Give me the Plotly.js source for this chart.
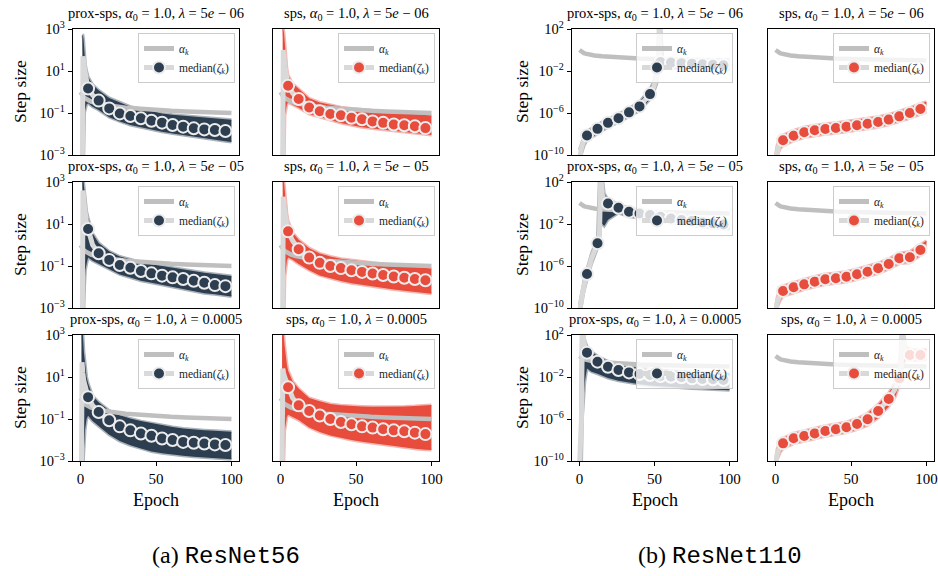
<!DOCTYPE html>
<html><head><meta charset="utf-8">
<script src="https://cdn.plot.ly/plotly-3.0.1.min.js"></script>
<style>html,body{margin:0;padding:0;background:#fff}</style>
</head><body><div id="chart" style="width:938px;height:576px"></div>
<script>
// ---------- shared data ----------
const MARK_EPOCHS = [5,12,19,26,33,40,47,54,61,68,75,82,89,96];
const ALPHA_EPOCHS = [0,1,2,3,4,5,7,10,15,20,30,40,50,60,70,80,90,100];
const ALPHA_VALUES = [1.0,0.71,0.58,0.5,0.45,0.41,0.35,0.3,0.25,0.22,0.18,0.156,0.14,0.128,0.119,0.111,0.105,0.1];
const METHODS = ['prox-sps','sps'];
const LAMBDA_LABELS = ['5<i>e</i> − 06','5<i>e</i> − 05','0.0005'];
const X_TICKS = [0,50,100];
const Y_TICKS_56 = [1e-3,1e-1,1e1,1e3];
const Y_TEXT_56 = ['10<sup>−3</sup>','10<sup>−1</sup>','10<sup>1</sup>','10<sup>3</sup>'];
const Y_TICKS_110 = [1e-10,1e-6,1e-2,1e2];
const Y_TEXT_110 = ['10<sup>−10</sup>','10<sup>−6</sup>','10<sup>−2</sup>','10<sup>2</sup>'];
const CAPTIONS = [['(a) ','ResNet56'],['(b) ','ResNet110']];

// ---------- per-panel data (log10 of step size) ----------
// ResNet56, prox-sps
const r56p_1_x   = [1.2,1.6,2.0,2.6,3.2,4.0,5,8,12,19,26,33,40,47,54,61,68,75,82,89,96,100];
const r56p_1_med = [-3.5,1.7,1.5,1.1,0.75,0.45,0.17,-0.15,-0.41,-0.78,-1.02,-1.14,-1.25,-1.37,-1.46,-1.57,-1.65,-1.73,-1.78,-1.81,-1.86,-1.88];
const r56p_1_hi  = [2.7,2.7,2.5,1.8,1.3,1.0,0.73,0.35,0.08,-0.28,-0.5,-0.7,-0.8,-0.92,-1.02,-1.08,-1.12,-1.17,-1.22,-1.26,-1.3,-1.32];
const r56p_1_lo  = [-3.5,-3.5,-3.5,-1.0,-0.75,-0.6,-0.54,-0.7,-0.86,-1.2,-1.4,-1.57,-1.68,-1.8,-1.89,-1.98,-2.06,-2.13,-2.2,-2.28,-2.35,-2.38];

const r56p_2_x   = [1.2,1.6,2.0,2.6,3.2,4.0,5,8,12,19,26,33,40,47,54,61,68,75,82,89,96,100];
const r56p_2_med = [-3.5,2.6,2.3,1.8,1.4,1.05,0.76,0.0,-0.39,-0.71,-0.95,-1.08,-1.24,-1.35,-1.46,-1.54,-1.62,-1.70,-1.80,-1.91,-1.96,-1.98];
const r56p_2_hi  = [3.1,3.1,3.0,2.5,2.0,1.6,1.3,0.55,0.1,-0.3,-0.55,-0.7,-0.82,-0.92,-1.0,-1.1,-1.18,-1.26,-1.32,-1.38,-1.45,-1.48];
const r56p_2_lo  = [-3.5,-3.5,-3.5,-2.0,-1.2,-0.9,-0.6,-0.75,-0.9,-1.15,-1.4,-1.55,-1.7,-1.8,-1.9,-2.0,-2.1,-2.2,-2.3,-2.35,-2.42,-2.45];

const r56p_3_x   = [0.6,1.0,1.5,2.2,3.0,4.0,5,8,12,19,26,33,40,47,54,61,68,75,82,89,96,100];
const r56p_3_med = [-3.5,1.7,1.2,0.8,0.5,0.25,0.04,-0.35,-0.67,-1.06,-1.35,-1.54,-1.69,-1.80,-1.93,-2.0,-2.09,-2.13,-2.17,-2.21,-2.24,-2.25];
const r56p_3_hi  = [3.1,3.1,3.1,2.2,1.5,1.0,0.7,0.1,-0.2,-0.6,-0.82,-0.98,-1.1,-1.2,-1.3,-1.38,-1.45,-1.5,-1.53,-1.56,-1.6,-1.61];
const r56p_3_lo  = [-3.5,-3.5,-3.5,-2.5,-1.5,-1.0,-0.85,-1.1,-1.35,-1.75,-2.05,-2.25,-2.4,-2.55,-2.63,-2.7,-2.75,-2.8,-2.83,-2.86,-2.9,-2.92];

// ResNet56, sps
const r56s_1_x   = [1.4,1.8,2.3,2.9,3.5,4.2,5,8,12,19,26,33,40,47,54,61,68,75,82,89,96,100];
const r56s_1_med = [-3.5,2.0,1.6,1.2,0.85,0.55,0.30,-0.05,-0.33,-0.74,-0.92,-1.05,-1.11,-1.23,-1.30,-1.40,-1.47,-1.55,-1.58,-1.63,-1.72,-1.74];
const r56s_1_hi  = [3.0,3.0,2.8,2.1,1.6,1.1,0.8,0.4,0.15,-0.3,-0.5,-0.62,-0.72,-0.78,-0.83,-0.88,-0.93,-0.97,-1.0,-1.05,-1.1,-1.12];
const r56s_1_lo  = [-3.5,-3.5,-3.5,-1.1,-0.8,-0.6,-0.5,-0.6,-0.75,-1.05,-1.2,-1.36,-1.48,-1.58,-1.68,-1.74,-1.8,-1.85,-1.9,-1.96,-2.02,-2.05];

const r56s_2_x   = [1.4,1.8,2.3,2.9,3.5,4.2,5,8,12,19,26,33,40,47,54,61,68,75,82,89,96,100];
const r56s_2_med = [-3.5,2.3,1.9,1.5,1.15,0.9,0.65,0.2,-0.2,-0.6,-0.85,-1.0,-1.1,-1.2,-1.28,-1.36,-1.43,-1.5,-1.56,-1.62,-1.68,-1.7];
const r56s_2_hi  = [3.1,3.1,3.0,2.4,1.9,1.5,1.15,0.6,0.25,-0.15,-0.4,-0.55,-0.65,-0.72,-0.78,-0.84,-0.9,-0.95,-1.0,-1.05,-1.1,-1.12];
const r56s_2_lo  = [-3.5,-3.5,-3.5,-1.5,-1.0,-0.75,-0.6,-0.7,-0.9,-1.2,-1.45,-1.6,-1.72,-1.82,-1.9,-1.98,-2.05,-2.12,-2.18,-2.24,-2.3,-2.32];

const r56s_3_x   = [1.0,1.5,2.0,2.7,3.4,4.2,5,8,12,19,26,33,40,47,54,61,68,75,82,89,96,100];
const r56s_3_med = [-3.5,1.4,1.2,1.0,0.85,0.7,0.51,0.0,-0.35,-0.62,-0.83,-1.0,-1.14,-1.25,-1.35,-1.41,-1.49,-1.54,-1.58,-1.65,-1.72,-1.74];
const r56s_3_hi  = [3.1,3.1,3.1,2.5,2.0,1.6,1.3,0.8,0.45,0.0,-0.15,-0.28,-0.34,-0.38,-0.4,-0.42,-0.42,-0.42,-0.4,-0.38,-0.35,-0.33];
const r56s_3_lo  = [-3.5,-3.5,-3.5,-1.6,-1.2,-0.9,-0.8,-0.9,-1.05,-1.4,-1.62,-1.78,-1.9,-2.0,-2.08,-2.15,-2.22,-2.3,-2.36,-2.42,-2.46,-2.48];

// ResNet110, prox-sps
const r110p_1_x   = [0,0.6,1.5,3,5,12,19,26,33,40,47,49.5,51.5,52.5,53.2,54,55.5,61,68,75,82,89,96,100];
const r110p_1_med = [-10.5,-9.8,-9.2,-8.6,-8.14,-7.51,-6.94,-6.50,-5.94,-5.37,-4.2,-3.5,-2.5,-1.0,2.5,-1.15,-1.17,-1.2,-1.25,-1.3,-1.35,-1.4,-1.45,-1.47];
const r110p_1_hi  = [-9.5,-9.2,-8.7,-8.2,-7.75,-7.1,-6.55,-6.1,-5.55,-4.95,-3.7,-3.0,-1.8,2.5,2.5,2.5,-0.9,-0.92,-0.95,-1.0,-1.05,-1.1,-1.15,-1.17];
const r110p_1_lo  = [-10.5,-10.5,-9.8,-9.1,-8.6,-7.95,-7.35,-6.9,-6.35,-5.8,-4.7,-4.0,-3.2,-2.0,-1.8,-1.7,-1.7,-1.7,-1.72,-1.75,-1.78,-1.8,-1.85,-1.87];

const r110p_2_x   = [0,0.6,1.5,3,5,8,12,13.3,14.2,15.2,16.5,19,26,33,40,47,54,61,68,75,82,89,96,100];
const r110p_2_med = [-10.5,-9.7,-9.0,-7.9,-6.77,-5.3,-3.84,-3.0,2.5,0.8,0.3,-0.05,-0.46,-0.84,-1.0,-1.15,-1.31,-1.47,-1.63,-1.72,-1.85,-1.94,-2.04,-2.08];
const r110p_2_hi  = [-9.7,-9.2,-8.5,-7.4,-6.3,-4.8,-3.3,2.5,2.5,2.5,0.9,0.35,-0.1,-0.5,-0.68,-0.82,-0.98,-1.12,-1.27,-1.37,-1.5,-1.6,-1.7,-1.75];
const r110p_2_lo  = [-10.5,-10.5,-9.6,-8.4,-7.3,-5.8,-4.3,-3.6,-2.0,-2.0,-2.2,-1.6,-0.95,-1.3,-1.45,-1.6,-1.75,-1.9,-2.05,-2.15,-2.28,-2.38,-2.45,-2.5];

const r110p_3_x   = [0,0.7,1.3,1.9,2.6,3.5,5,8,12,19,26,33,40,47,54,61,68,75,82,89,96,100];
const r110p_3_med = [-10.5,-8.5,-6.0,2.5,1.5,0.9,0.32,-0.15,-0.54,-1.02,-1.33,-1.56,-1.71,-1.81,-1.90,-1.97,-2.03,-2.13,-2.19,-2.22,-2.29,-2.31];
const r110p_3_hi  = [-7.0,-7.0,2.5,2.5,2.5,1.5,0.9,0.4,0.0,-0.5,-0.8,-1.0,-1.15,-1.25,-1.35,-1.42,-1.5,-1.55,-1.6,-1.63,-1.66,-1.68];
const r110p_3_lo  = [-10.5,-10.5,-10.5,-6.0,-4.5,-2.5,-1.2,-1.5,-1.7,-2.1,-2.35,-2.55,-2.7,-2.8,-2.9,-2.97,-3.03,-3.1,-3.15,-3.2,-3.25,-3.27];

// ResNet110, sps
const r110s_1_x   = [0,0.5,1,2,3,5,12,19,26,33,40,47,54,61,68,75,82,89,96,100];
const r110s_1_med = [-10.5,-10.0,-9.6,-9.2,-8.9,-8.6,-8.16,-7.84,-7.65,-7.52,-7.43,-7.30,-7.17,-7.02,-6.86,-6.63,-6.32,-6.0,-5.62,-5.42];
const r110s_1_hi  = [-10.0,-9.5,-9.1,-8.7,-8.4,-8.1,-7.66,-7.34,-7.15,-7.02,-6.93,-6.8,-6.67,-6.52,-6.36,-6.13,-5.82,-5.5,-5.12,-4.92];
const r110s_1_lo  = [-10.5,-10.5,-10.1,-9.7,-9.4,-9.1,-8.66,-8.34,-8.15,-8.02,-7.93,-7.8,-7.67,-7.52,-7.36,-7.13,-6.82,-6.5,-6.12,-5.92];

const r110s_2_x   = [0,0.5,1,2,3,5,12,19,26,33,40,47,54,61,68,75,82,89,96,100];
const r110s_2_med = [-10.5,-9.9,-9.5,-9.1,-8.8,-8.38,-8.03,-7.75,-7.49,-7.27,-7.17,-7.02,-6.79,-6.54,-6.22,-5.81,-5.27,-5.17,-4.48,-4.1];
const r110s_2_hi  = [-10.0,-9.4,-9.0,-8.6,-8.3,-7.88,-7.53,-7.25,-6.99,-6.77,-6.67,-6.52,-6.29,-6.04,-5.72,-5.31,-4.77,-4.62,-3.95,-3.6];
const r110s_2_lo  = [-10.5,-10.5,-10.0,-9.6,-9.3,-8.88,-8.53,-8.25,-7.99,-7.77,-7.67,-7.52,-7.29,-7.04,-6.72,-6.31,-5.77,-5.7,-5.0,-4.6];

const r110s_3_x   = [0,0.5,1,2,3,5,12,19,26,33,40,47,54,61,68,75,79,82,83.3,84.2,86,89,96,100];
const r110s_3_med = [-10.5,-9.8,-9.4,-9.0,-8.7,-8.32,-7.84,-7.62,-7.37,-7.14,-6.98,-6.79,-6.48,-6.03,-5.24,-4.10,-3.2,-2.13,-1.0,2.5,0.4,0.1,0.1,0.2];
const r110s_3_hi  = [-10.0,-9.3,-8.9,-8.5,-8.2,-7.82,-7.34,-7.12,-6.87,-6.64,-6.48,-6.29,-5.95,-5.45,-4.6,-3.5,-2.6,-1.5,2.5,2.5,1.0,0.6,0.6,0.7];
const r110s_3_lo  = [-10.5,-10.5,-9.9,-9.5,-9.2,-8.82,-8.34,-8.12,-7.87,-7.64,-7.48,-7.29,-7.0,-6.6,-5.9,-4.8,-4.0,-2.8,-1.6,-1.0,-0.3,-0.4,-0.4,-0.3];

// ---------- layout helpers ----------
const W = 938, H = 576;
const SERIF = "'Liberation Serif', 'DejaVu Serif', serif";
const MONO = "'Liberation Mono', 'DejaVu Sans Mono', monospace";
const NAVY = '44,62,80', RED = '231,76,60';
const COLS = [[73,239],[273,439],[572,737],[768,934]];
const ROWS = [[29,155],[182,308],[335,461]];

const panels = [
  [r56p_1_x,r56p_1_med,r56p_1_hi,r56p_1_lo,0,0],
  [r56s_1_x,r56s_1_med,r56s_1_hi,r56s_1_lo,1,0],
  [r110p_1_x,r110p_1_med,r110p_1_hi,r110p_1_lo,2,0],
  [r110s_1_x,r110s_1_med,r110s_1_hi,r110s_1_lo,3,0],
  [r56p_2_x,r56p_2_med,r56p_2_hi,r56p_2_lo,0,1],
  [r56s_2_x,r56s_2_med,r56s_2_hi,r56s_2_lo,1,1],
  [r110p_2_x,r110p_2_med,r110p_2_hi,r110p_2_lo,2,1],
  [r110s_2_x,r110s_2_med,r110s_2_hi,r110s_2_lo,3,1],
  [r56p_3_x,r56p_3_med,r56p_3_hi,r56p_3_lo,0,2],
  [r56s_3_x,r56s_3_med,r56s_3_hi,r56s_3_lo,1,2],
  [r110p_3_x,r110p_3_med,r110p_3_hi,r110p_3_lo,2,2],
  [r110s_3_x,r110s_3_med,r110s_3_hi,r110s_3_lo,3,2]
];

const pow10 = a => a.map(v => Math.pow(10, v));
const traces = [];
const layout = {
  width: W, height: H, margin: {l:0,r:0,t:0,b:0},
  paper_bgcolor: '#fff', plot_bgcolor: '#fff', showlegend: true,
  annotations: []
};

panels.forEach((p, i) => {
  const [px, pmed, phi, plo, c, r] = p;
  const n = i + 1, s = n === 1 ? '' : String(n);
  const xa = 'x' + s, ya = 'y' + s;
  const lg = 'legend' + s;
  const rgb = (c % 2 === 0) ? NAVY : RED;
  const is56 = c < 2;
  const [x0, x1] = COLS[c], [y0, y1] = ROWS[r];

  traces.push({x: px, y: pow10(plo), xaxis: xa, yaxis: ya, mode: 'lines',
    line: {color: `rgba(${rgb},0.4)`, width: 3}, showlegend: false, hoverinfo: 'skip'});
  traces.push({x: px, y: pow10(phi), xaxis: xa, yaxis: ya, mode: 'lines',
    line: {color: `rgba(${rgb},0.4)`, width: 3}, fill: 'tonexty',
    fillcolor: `rgb(${rgb})`, showlegend: false, hoverinfo: 'skip'});
  traces.push({x: ALPHA_EPOCHS, y: ALPHA_VALUES, xaxis: xa, yaxis: ya, mode: 'lines',
    line: {color: '#bfbfbf', width: 4.5}, name: '<i>α<sub>k</sub></i>', legend: lg});
  const isMark = px.map(v => MARK_EPOCHS.includes(v));
  traces.push({x: px, y: pow10(pmed), xaxis: xa, yaxis: ya, mode: 'lines+markers',
    line: {color: '#d9d9d9', width: 5},
    marker: {color: `rgb(${rgb})`, opacity: 1, size: isMark.map(m => m ? 12 : 0),
      line: {color: '#ececec', width: isMark.map(m => m ? 2 : 0)}},
    name: 'median(<i>ζ<sub>k</sub></i>)', legend: lg});

  layout['xaxis' + s] = {
    domain: [x0 / W, x1 / W], anchor: ya, range: [-5, 105],
    showline: true, mirror: true, linecolor: '#000', linewidth: 1.2,
    showgrid: false, zeroline: false,
    ticks: r === 2 ? 'outside' : '', ticklen: 4, tickcolor: '#000',
    tickvals: X_TICKS, showticklabels: r === 2,
    tickfont: {family: SERIF, size: 15, color: '#000'}
  };
  layout['yaxis' + s] = {
    domain: [1 - y1 / H, 1 - y0 / H], anchor: xa, type: 'log',
    range: is56 ? [-3, 3] : [-10, 2],
    showline: true, mirror: true, linecolor: '#000', linewidth: 1.2,
    showgrid: false, zeroline: false,
    ticks: (c % 2 === 0) ? 'outside' : '', ticklen: 4, tickcolor: '#000',
    tickvals: is56 ? Y_TICKS_56 : Y_TICKS_110, ticktext: is56 ? Y_TEXT_56 : Y_TEXT_110,
    showticklabels: c % 2 === 0,
    tickfont: {family: SERIF, size: 14.5, color: '#000'}
  };
  layout[lg] = {
    x: (x1 - 4) / W, y: 1 - (y0 + 4) / H, xanchor: 'right', yanchor: 'top',
    xref: 'paper', yref: 'paper', traceorder: 'normal',
    bgcolor: 'rgba(255,255,255,0.8)', bordercolor: '#cccccc', borderwidth: 1,
    font: {family: SERIF, size: 11.5, color: '#222'},
    itemsizing: 'constant', itemwidth: 30, tracegroupgap: 0
  };
  layout.annotations.push({
    text: `${METHODS[c % 2]}, <i>α</i><sub>0</sub> = 1.0, <i>λ</i> = ${LAMBDA_LABELS[r]}`,
    x: (x0 + x1) / 2 / W, y: 1 - y0 / H, xref: 'paper', yref: 'paper',
    xanchor: 'center', yanchor: 'bottom', yshift: 4, showarrow: false,
    font: {family: SERIF, size: 14.5, color: '#000'}
  });
  if (c % 2 === 0) {
    layout.annotations.push({
      text: 'Step size', textangle: -90, x: (c === 0 ? 20 : 522) / W, y: 1 - (y0 + y1) / 2 / H,
      xref: 'paper', yref: 'paper', xanchor: 'center', yanchor: 'middle', showarrow: false,
      font: {family: SERIF, size: 17.5, color: '#000'}
    });
  }
  if (r === 2) {
    layout.annotations.push({
      text: 'Epoch', x: (x0 + x1) / 2 / W, y: 1 - 500 / H, xref: 'paper', yref: 'paper',
      xanchor: 'center', yanchor: 'middle', showarrow: false,
      font: {family: SERIF, size: 18, color: '#000'}
    });
  }
});

[[226, 0], [720, 1]].forEach(([cx, k]) => {
  layout.annotations.push({
    text: `${CAPTIONS[k][0]}<span style="font-family:${MONO}">${CAPTIONS[k][1]}</span>`,
    x: cx / W, y: 1 - 556 / H, xref: 'paper', yref: 'paper', xanchor: 'center', yanchor: 'middle',
    showarrow: false, font: {family: SERIF, size: 24, color: '#000'}
  });
});

Plotly.newPlot('chart', traces, layout, {displayModeBar: false, staticPlot: true});
</script></body></html>
